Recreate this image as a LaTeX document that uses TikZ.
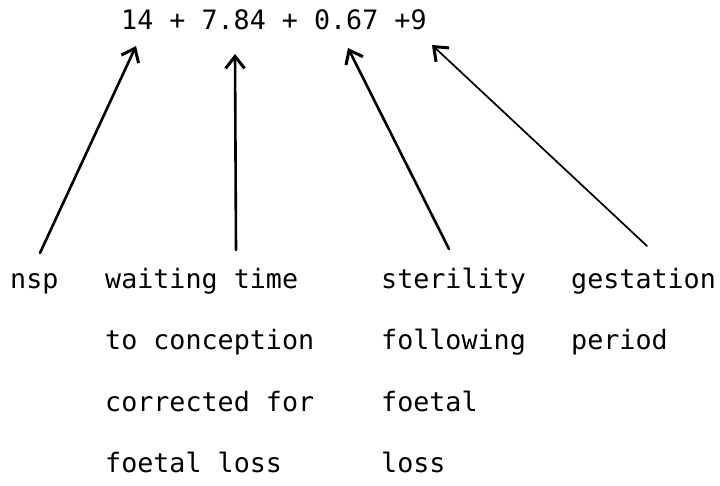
\documentclass[tikz,border=0pt]{standalone}
\usepackage{fontspec}
\setmonofont{DejaVu Sans Mono}
\usetikzlibrary{arrows.meta}
\begin{document}
\begin{tikzpicture}[x=1bp,y=-1bp,
  lbl/.style={font=\ttfamily\fontsize{26.8}{30}\selectfont, anchor=base west, inner sep=0pt},
  ptr/.style={line width=2.6bp, line cap=round,
    -{Straight Barb[length=12bp,width=19bp,line width=3bp]}},
  thinptr/.style={ptr, line width=1.7bp}]
\useasboundingbox (0,0) rectangle (720,486);

% the sum
\node[lbl] (sum) at (121,30) {14 + 7.84 + 0.67 +9};

% labels under the sum
\node[lbl] (nsp) at (10,288) {nsp};
\node[lbl] (w1) at (105,288) {waiting time};
\node[lbl] (w2) at (105,349.5) {to conception};
\node[lbl] (w3) at (105,411) {corrected for};
\node[lbl] (w4) at (105,472) {foetal loss};
\node[lbl] (s1) at (381,288) {sterility};
\node[lbl] (s2) at (381,349.5) {following};
\node[lbl] (s3) at (381,411) {foetal};
\node[lbl] (s4) at (381,472) {loss};
\node[lbl] (g1) at (571,288) {gestation};
\node[lbl] (g2) at (571,349.5) {period};

% arrow ends
\coordinate (nspTail) at (40,253);
\coordinate (nspTip) at (136,46);
\coordinate (wTail) at (236,250);
\coordinate (wTip) at (235,54);
\coordinate (sTail) at (449,249);
\coordinate (sTip) at (348,48);
\coordinate (gTail) at (647,246);
\coordinate (gTip) at (432,45);

\draw[ptr] (nspTail) -- (nspTip);
\draw[ptr] (wTail) -- (wTip);
\draw[ptr] (sTail) -- (sTip);
\draw[thinptr] (gTail) -- (gTip);
\end{tikzpicture}
\end{document}
